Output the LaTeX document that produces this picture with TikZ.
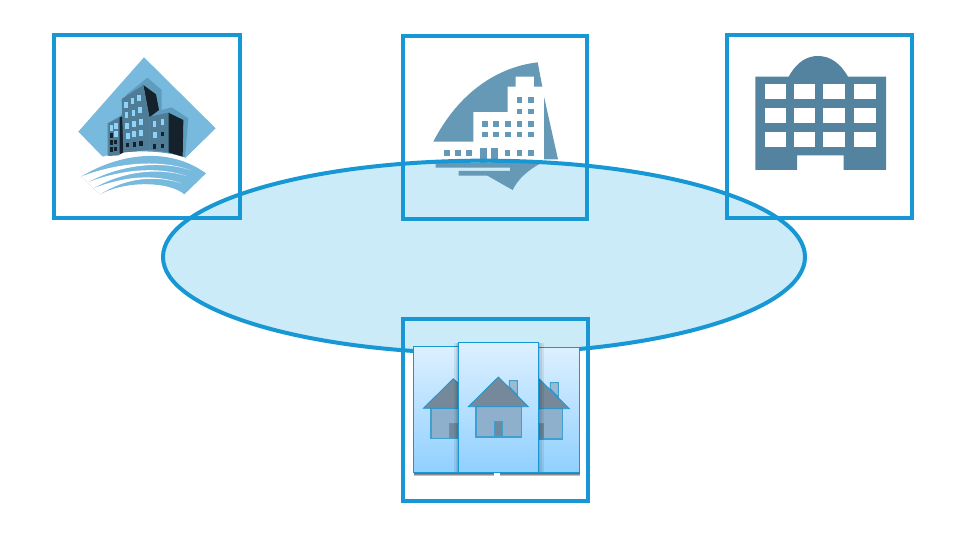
\documentclass[tikz,border=0pt]{standalone}
\usepackage{tikz}
\usetikzlibrary{shapes.geometric,shadows}
\definecolor{framecol}{HTML}{1797D4}
\definecolor{ringcol}{HTML}{CCEBF9}
\definecolor{skycol}{HTML}{78B9DE}
\definecolor{halocol}{HTML}{5F9DBF}
\definecolor{frontcol}{HTML}{4F7D98}
\definecolor{darkcol}{HTML}{15222B}
\definecolor{wincol}{HTML}{8FD3F8}
\definecolor{sailcol}{HTML}{6699B5}
\definecolor{blockcol}{HTML}{54839F}
\definecolor{cardtop}{HTML}{DDF0FF}
\definecolor{cardbottom}{HTML}{90D0FF}
\definecolor{roofcol}{HTML}{75899A}
\definecolor{wallcol}{HTML}{8FB0CC}
\definecolor{doorcol}{HTML}{6F8A9E}
\definecolor{chimneycol}{HTML}{9CBAD2}
\definecolor{housedge}{HTML}{3E9FD0}
\tikzset{
  framebox/.style={draw=framecol, line width=3pt, inner sep=0pt, minimum width=#1},
  ringbase/.style={ellipse, inner sep=0pt, minimum width=481.5pt, minimum height=144.5pt},
  cardbox/.style={draw=framecol, line width=0.6pt, inner sep=0pt, anchor=north west,
    minimum width=60pt, minimum height=#1, top color=cardtop, bottom color=cardbottom},
  softshadow/.style={general shadow={shadow xshift=0pt, shadow yshift=-#1, fill=black, draw=none, fill opacity=0.25}},
  sideshadow/.style={general shadow={shadow xshift=#1, shadow yshift=0pt, fill=black, draw=none, fill opacity=0.07}},
  house/.pic={
    \draw[housedge, line width=0.7pt, fill=chimneycol] (33,-78) -- (57,-78) -- (57,-35) -- (33,-60) -- cycle;
    \draw[housedge, line width=0.8pt, fill=wallcol] (-67,0) rectangle (69,91);
    \draw[housedge, line width=0.8pt, fill=doorcol] (-12,45) rectangle (12,91);
    \draw[framecol, line width=0.6pt, fill=roofcol] (-90,0) -- (0,-89) -- (90,0) -- cycle;
  }
}
\begin{document}
\begin{tikzpicture}[x=0.75pt, y=-0.75pt]
  \useasboundingbox (0,0) rectangle (964,538);
  \fill[white] (0,0) rectangle (964,538);
  \node(ringfill)[ringbase, fill=ringcol] at (484,257) {};

  \begin{scope}[shift={(50,30)}, x=0.25pt, y=-0.25pt]
    \fill[skycol] (158,380) -- (85,305) -- (282,82) -- (497,295) -- (407,383) .. controls (340,358) and (230,355) .. cycle;
    \fill[halocol] (172,378) -- (172,280) -- (214,255) -- (228,195) -- (292,143) -- (335,180) -- (335,240) -- (365,232) -- (415,265) -- (405,382) .. controls (340,360) and (230,358) .. cycle;
    \fill[darkcol] (208,263) -- (218,258) -- (220,368) -- (208,374) -- cycle;
    \fill[frontcol] (175,280) -- (208,263) -- (208,376) -- (175,378) -- cycle;
    \fill[darkcol] (280,165) -- (318,193) -- (327,240) -- (298,262) -- cycle;
    \fill[frontcol] (215,207) -- (280,165) -- (298,260) -- (298,360) -- (220,367) -- cycle;
    \fill[darkcol] (355,248) -- (400,270) -- (398,380) -- (355,367) -- cycle;
    \fill[frontcol] (298,260) -- (355,248) -- (355,367) -- (298,360) -- cycle;
    \foreach \x/\y in {227/224,247/214,266/203,229/256,250/249,270/240,231/288,251/282,272/276,233/317,252/313,273/309,184/295,197/289,197/313,313/282,337/275,315/315}
      \fill[wincol] (\x-5.5,\y-9) rectangle (\x+5.5,\y+9);
    \foreach \x/\y in {233/345,253/343,273/341,184/316,184/338,197/336,184/358,197/357,337/312,314/349,337/348}
      \fill[darkcol] (\x-5,\y-7) rectangle (\x+5,\y+7);
    \fill[skycol] (93,440) .. controls (200,375) and (350,345) .. (468,430) -- (403,493) .. controls (360,455) and (230,450) .. (150,493) -- (130,475) -- (113,457) -- cycle;
    \fill[white] (93,440) .. controls (190,402) and (320,384) .. (420,420) .. controls (320,388) and (200,410) .. (113,457) -- cycle;
    \fill[white] (113,457) .. controls (210,420) and (320,407) .. (410,438) .. controls (320,411) and (215,426) .. (130,475) -- cycle;
    \fill[white] (130,475) .. controls (220,440) and (310,430) .. (395,460) .. controls (310,434) and (225,445) .. (150,493) -- cycle;
  \end{scope}

  \begin{scope}[shift={(400,30)}, x=0.25pt, y=-0.25pt]
    \fill[sailcol] (100,335) .. controls (180,180) and (300,110) .. (413,97) -- (427,170) -- (402,170) -- (402,140) -- (347,140) -- (347,170) -- (323,170) -- (323,246) -- (220,246) -- (220,335) -- cycle;
    \fill[sailcol] (432,200) -- (474,388) -- (432,388) -- cycle;
    \fill[sailcol] (241,355) rectangle (261,400);
    \fill[sailcol] (273,355) rectangle (293,400);
    \fill[sailcol] (107,398) -- (425,398) .. controls (385,420) and (355,445) .. (338,480) -- (262,437) -- (176,437) -- (176,423) -- (330,423) -- (330,413) -- (107,413) -- cycle;
    \foreach \x/\y in {140/369,173/369,207/369,322/369,358/369,393/369,255/314,288/314,323/314,358/314,393/314,255/282,288/282,323/282,358/282,393/282,358/245,393/245,358/210,393/210}
      \fill[sailcol] (\x-8.5,\y-8.5) rectangle (\x+8.5,\y+8.5);
  \end{scope}

  \begin{scope}[shift={(722,30)}, x=0.25pt, y=-0.25pt]
    \fill[blockcol] (100,140) -- (200,140) .. controls (225,95) and (255,78) .. (288,78) .. controls (325,78) and (355,100) .. (378,140) -- (492,140) -- (492,420) -- (365,420) -- (365,376) -- (225,376) -- (225,420) -- (100,420) -- cycle;
    \foreach \y in {162,233,305}
      \foreach \x in {129,215,304,397}
        \fill[white] (\x,\y) rectangle (\x+64,\y+46);
  \end{scope}

  \node(ringedge)[ringbase, draw=framecol, line width=3pt] at (484,257) {};
  \node(officebox)[framebox=139.4pt, minimum height=137.3pt] at (147.3,126.3) {};
  \node(harborbox)[framebox=138pt, minimum height=136.8pt] at (495,127.5) {};
  \node(blockbox)[framebox=138.3pt, minimum height=137.3pt] at (819.5,126.3) {};
  \node(homebox)[framebox=138.8pt, minimum height=136.8pt] at (495.5,409.8) {};

  \begin{scope}[shift={(400,315)}, x=0.25pt, y=-0.25pt]
    \node(leftcard)[cardbox=94.5pt, softshadow=0.9pt, softshadow=1.5pt, softshadow=2.1pt, softshadow=2.7pt] at (40,92) {};
    \pic at (160,280) {house};
    \node(rightcard)[cardbox=93.75pt, softshadow=0.9pt, softshadow=1.5pt, softshadow=2.1pt, softshadow=2.7pt] at (298,95) {};
    \pic at (418,281) {house};
    \node(midcard)[cardbox=97pt, sideshadow=3.6pt, sideshadow=2.4pt, sideshadow=1.2pt, sideshadow=-3.6pt, sideshadow=-2.4pt, sideshadow=-1.2pt] at (175,82) {};
    \pic at (295,275) {house};
  \end{scope}
\end{tikzpicture}
\end{document}
